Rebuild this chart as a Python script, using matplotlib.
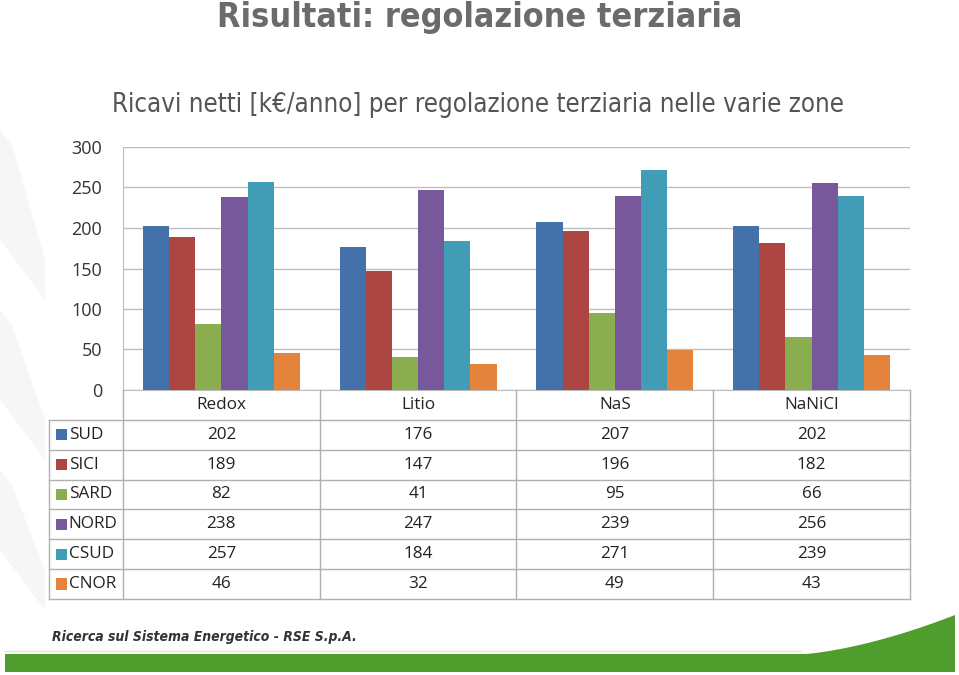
import numpy as np
import matplotlib.pyplot as plt
from matplotlib.patches import Rectangle, Polygon

categories = ['Redox', 'Litio', 'NaS', 'NaNiCl']
zones = ['SUD', 'SICI', 'SARD', 'NORD', 'CSUD', 'CNOR']
values = {
    'SUD': [202, 176, 207, 202],
    'SICI': [189, 147, 196, 182],
    'SARD': [82, 41, 95, 66],
    'NORD': [238, 247, 239, 256],
    'CSUD': [257, 184, 271, 239],
    'CNOR': [46, 32, 49, 43],
}
colors = ['#4471AA', '#AD4542', '#8AAD4F', '#76589B', '#419DB5', '#E4833B']
yticks = [0, 50, 100, 150, 200, 250, 300]

W, H = 959, 675
fig = plt.figure(figsize=(W / 100, H / 100), dpi=100)
fig.patch.set_facecolor('white')


def box(x0, y0, x1, y1):
    # pixel box (top-left origin) -> figure fraction rect
    return [x0 / W, 1 - y1 / H, (x1 - x0) / W, (y1 - y0) / H]


# background decoration
bg = fig.add_axes([0, 0, 1, 1])
bg.set_xlim(0, W)
bg.set_ylim(H, 0)
bg.axis('off')
for y0, y1 in [(130, 300), (310, 460), (470, 610)]:
    bg.add_patch(Polygon([[0, y0], [12, y0 + 15], [45, y1 - 40], [45, y1], [0, y1 - 60]],
                         closed=True, color='#f6f6f6', lw=0))
bg.add_patch(Rectangle((5, 654), 950, 18, color='#4e9d2d', lw=0))
curve_x = np.linspace(790, 955, 40)
curve_y = 655 - 40 * ((curve_x - 790) / 165) ** 1.6
bg.add_patch(Polygon(np.column_stack([np.r_[curve_x, 955], np.r_[curve_y, 655]]),
                     closed=True, color='#4e9d2d', lw=0))
bg.plot([5, 800], [651, 651], color='#e0e0e0', lw=1)

fig.text(480 / W, 1 - 17 / H, 'Risultati: regolazione terziaria', ha='center', va='center',
         fontsize=24.5, fontweight='bold', color='#6b6b6b', family='DejaVu Sans', stretch='condensed')
fig.text(478 / W, 1 - 105 / H, 'Ricavi netti [k\u20ac/anno] per regolazione terziaria nelle varie zone',
         ha='center', va='center', fontsize=18.5, color='#555555', family='DejaVu Sans', stretch='condensed')
fig.text(52 / W, 1 - 637 / H, 'Ricerca sul Sistema Energetico - RSE S.p.A.', ha='left', va='center',
         fontsize=10, style='italic', fontweight='bold', color='#333333',
         family='DejaVu Sans', stretch='condensed')

# bar chart
ax = fig.add_axes(box(123, 147, 910, 390))
x = np.arange(len(categories))
bw = 0.133
for i, z in enumerate(zones):
    ax.bar(x + (i - 2.5) * bw, values[z], bw, color=colors[i], zorder=3)
ax.set_xlim(-0.5, len(categories) - 0.5)
ax.set_ylim(0, 300)
ax.set_yticks(yticks)
ax.set_yticklabels([str(t) for t in yticks], family='Open Sans', fontsize=13, color='#333333')
ax.set_xticks([])
ax.tick_params(axis='y', length=0, pad=15)
ax.grid(axis='y', color='#bdbdbd', lw=1, zorder=0)
for s in ax.spines.values():
    s.set_color('#bdbdbd')
ax.spines['top'].set_visible(False)
ax.spines['right'].set_visible(False)

# data table under the chart
lab_w = 74 / 197
tx = fig.add_axes(box(49, 390, 910, 599))
tx.set_xlim(-0.5 - lab_w, len(categories) - 0.5)
tx.set_ylim(len(zones) + 1, 0)
tx.axis('off')
lc = '#b0b0b0'
for c in range(len(categories) + 1):
    tx.plot([c - 0.5, c - 0.5], [0, len(zones) + 1], color=lc, lw=1, clip_on=False)
tx.plot([-0.5 - lab_w, -0.5 - lab_w], [1, len(zones) + 1], color=lc, lw=1, clip_on=False)
for r in range(1, len(zones) + 2):
    tx.plot([-0.5 - lab_w, len(categories) - 0.5], [r, r], color=lc, lw=1, clip_on=False)
for c, cat in enumerate(categories):
    tx.text(c, 0.5, cat, ha='center', va='center', family='Open Sans', fontsize=12.3, color='#222222')
for r, z in enumerate(zones):
    tx.add_patch(Rectangle((-0.5 - lab_w + 0.035, r + 1.5 - 0.19), 0.055, 0.38, color=colors[r], lw=0))
    tx.text(-0.5 - lab_w + 0.1, r + 1.5, z, ha='left', va='center', family='Open Sans',
            fontsize=12.3, color='#222222')
    for c in range(len(categories)):
        tx.text(c, r + 1.5, str(values[z][c]), ha='center', va='center', family='Open Sans',
                fontsize=12.3, color='#222222')

fig.savefig('out.png', dpi=100)
